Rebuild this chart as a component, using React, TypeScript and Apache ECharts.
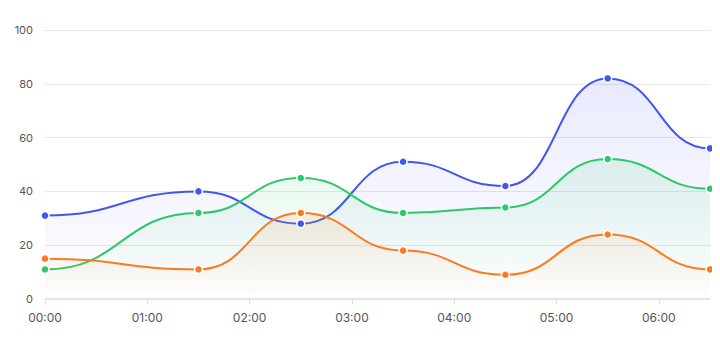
import React, { useEffect, useRef } from "react";
import * as echarts from "echarts";

const times = [0, 90, 150, 210, 270, 330, 390];
const hourTicks = [0, 60, 120, 180, 240, 300, 360];
const blueValues = [31, 40, 28, 51, 42, 82, 56];
const greenValues = [11, 32, 45, 32, 34, 52, 41];
const orangeValues = [15, 11, 32, 18, 9, 24, 11];
const yTicks = [0, 20, 40, 60, 80, 100];

const fmt = (v: number) => {
  const h = Math.floor(v / 60);
  const m = v % 60;
  return `${String(h).padStart(2, "0")}:${String(m).padStart(2, "0")}`;
};

// bump-x curve: horizontal tangent at every point
function bumpPath(pts: number[][]): string {
  let d = `M${pts[0][0]},${pts[0][1]}`;
  for (let i = 0; i < pts.length - 1; i++) {
    const [x0, y0] = pts[i];
    const [x1, y1] = pts[i + 1];
    const mx = (x0 + x1) / 2;
    d += ` C${mx},${y0} ${mx},${y1} ${x1},${y1}`;
  }
  return d;
}

function curveSeries(values: number[], color: string, r: number, g: number, b: number) {
  return {
    type: "custom",
    coordinateSystem: "cartesian2d",
    clip: false,
    silent: true,
    z: 1,
    data: [[times[0], values[0]]],
    renderItem: (_params: any, api: any) => {
      const pts = times.map((t, i) => api.coord([t, values[i]]));
      const base = api.coord([0, 0])[1];
      const line = bumpPath(pts);
      const area = `${line} L${pts[pts.length - 1][0]},${base} L${pts[0][0]},${base} Z`;
      return {
        type: "group",
        children: [
          {
            type: "path",
            shape: { pathData: area },
            style: {
              fill: new echarts.graphic.LinearGradient(0, 0, 0, 1, [
                { offset: 0, color: `rgba(${r},${g},${b},0.12)` },
                { offset: 1, color: `rgba(${r},${g},${b},0)` },
              ]),
              stroke: "none",
            },
          },
          {
            type: "path",
            shape: { pathData: line },
            style: { fill: "none", stroke: color, lineWidth: 2 },
          },
        ],
      };
    },
  };
}

function pointSeries(name: string, values: number[], color: string) {
  return {
    name,
    type: "line",
    z: 3,
    data: values.map((v, i) => [times[i], v]),
    symbol: "circle",
    symbolSize: 8,
    showSymbol: true,
    lineStyle: { width: 0, opacity: 0 },
    itemStyle: { color, borderColor: "#fff", borderWidth: 1.5 },
  };
}

export default function App() {
  const ref = useRef<HTMLDivElement>(null);
  useEffect(() => {
    if (!ref.current) return;
    const chart = echarts.init(ref.current, undefined, { renderer: "svg" });
    chart.setOption({
      animation: false,
      textStyle: { fontFamily: "Inter" },
      grid: { left: 37, right: 2, top: 22, bottom: 44, containLabel: false },
      xAxis: {
        type: "value",
        min: 0,
        max: 390,
        interval: 60,
        axisLine: { show: true, lineStyle: { color: "#e0e0e0", width: 1.5 } },
        axisTick: { show: true, length: 5, lineStyle: { color: "#e0e0e0" }, customValues: hourTicks },
        axisLabel: {
          color: "#555",
          fontSize: 12,
          margin: 12,
          customValues: hourTicks,
          formatter: (v: number) => fmt(v),
        },
        splitLine: { show: false },
      },
      yAxis: {
        type: "value",
        min: 0,
        max: 100,
        interval: 20,
        axisLine: { show: false },
        axisTick: { show: false },
        axisLabel: { color: "#555", fontSize: 11, margin: 12, customValues: yTicks },
        splitLine: { show: true, lineStyle: { color: "#e8e8e8" } },
      },
      series: [
        curveSeries(blueValues, "#4256ee", 66, 86, 238),
        curveSeries(greenValues, "#2ec86a", 46, 200, 106),
        curveSeries(orangeValues, "#fd7a1c", 253, 122, 28),
        pointSeries("A", blueValues, "#4256ee"),
        pointSeries("B", greenValues, "#2ec86a"),
        pointSeries("C", orangeValues, "#fd7a1c"),
      ],
    });
    return () => chart.dispose();
  }, []);
  return <div ref={ref} style={{ width: 704, height: 335 }} />;
}
